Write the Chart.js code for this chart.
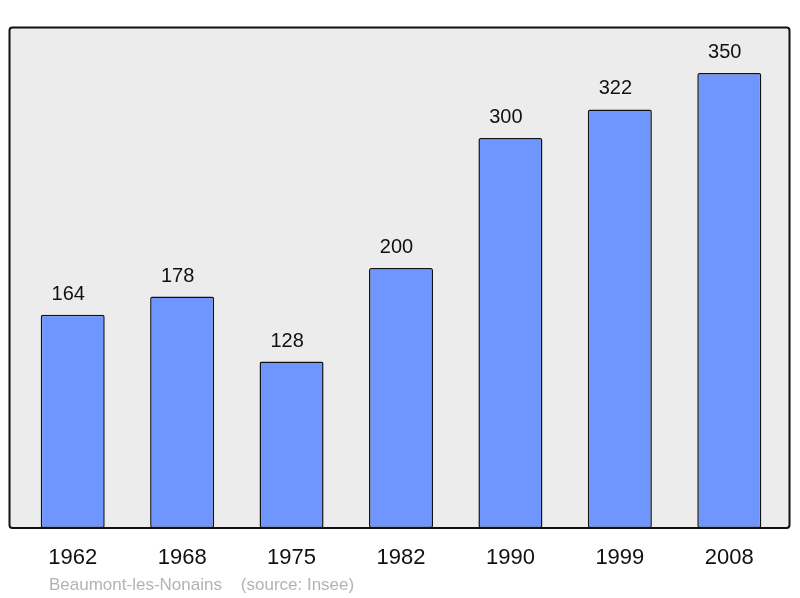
<!DOCTYPE html>
<html><head><meta charset="utf-8">
<script src="https://cdn.jsdelivr.net/npm/chart.js@4/dist/chart.umd.min.js"></script>
<style>html,body{margin:0;padding:0;background:#fff}#wrap{width:800px;height:598px}</style>
</head><body><div id="wrap"><canvas id="c" width="800" height="598"></canvas></div>
<script>
const years = ["1962","1968","1975","1982","1990","1999","2008"];
const population = [164,178,128,200,300,322,350];
const sourceText = "Beaumont-les-Nonains    (source: Insee)";

const FONT = "'Liberation Sans', Arial, sans-serif";

const framePlugin = {
  id: 'frame',
  beforeDatasetsDraw(chart) {
    const ctx = chart.ctx;
    ctx.save();
    ctx.fillStyle = '#ececec';
    ctx.beginPath();
    ctx.roundRect(9.5, 27.5, 780, 500.5, 3);
    ctx.fill();
    ctx.restore();
  },
  afterDatasetsDraw(chart) {
    const ctx = chart.ctx;
    ctx.save();
    ctx.strokeStyle = '#111';
    ctx.lineWidth = 2;
    ctx.beginPath();
    ctx.roundRect(9.5, 27.5, 780, 500.5, 3);
    ctx.stroke();
    // value labels
    const meta = chart.getDatasetMeta(0);
    ctx.fillStyle = '#111';
    ctx.font = '20px ' + FONT;
    ctx.textAlign = 'center';
    ctx.textBaseline = 'alphabetic';
    meta.data.forEach((bar, i) => {
      ctx.fillText(String(population[i]), bar.x - 4.5, bar.y - 15);
    });
    // source
    ctx.fillStyle = '#b3b3b3';
    ctx.font = '17px ' + FONT;
    ctx.textAlign = 'left';
    ctx.textBaseline = 'alphabetic';
    ctx.fillText(sourceText, 49, 590);
    ctx.restore();
  }
};

new Chart(document.getElementById('c'), {
  type: 'bar',
  data: {
    labels: years,
    datasets: [{
      data: population,
      backgroundColor: '#6f96ff',
      borderColor: '#111',
      borderWidth: 1.5,
      borderRadius: 2,
      borderSkipped: false,
      barPercentage: 0.585,
      categoryPercentage: 1
    }]
  },
  options: {
    responsive: false,
    animation: false,
    events: [],
    layout: { padding: { left: 18, right: 16, top: 27, bottom: 0 } },
    plugins: { legend: { display: false }, tooltip: { enabled: false } },
    scales: {
      x: {
        grid: { display: false, drawTicks: false },
        border: { display: false },
        ticks: { color: '#111', font: { family: FONT, size: 22 }, padding: 17, maxRotation: 0 },
        afterFit(scale) { scale.height = 70; }
      },
      y: {
        display: false,
        min: 0,
        max: 385.4
      }
    }
  },
  plugins: [framePlugin]
});
</script>
</body></html>
